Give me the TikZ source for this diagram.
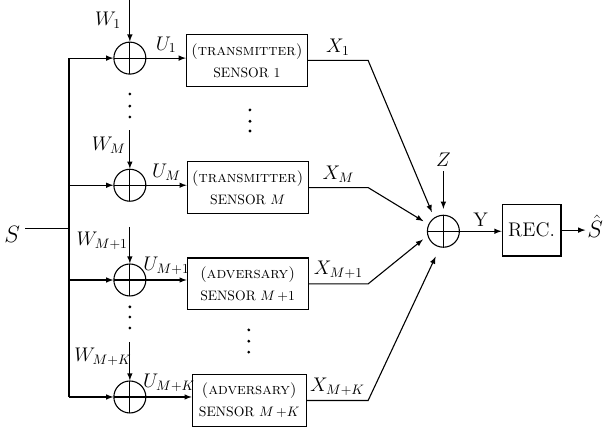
\documentclass[tikz,border=0pt]{standalone}
\newcommand{\papel}[1]{{\fontsize{11.4}{13}\selectfont\textsc{#1}}}
\begin{document}
\begin{tikzpicture}[
        thick,
        seta/.style={-latex},
        rotulo/.style={font=\Large},
        grande/.style={font=\fontsize{18.5}{22}\selectfont},
        somador/.style={circle, draw, minimum size=0.82cm, inner sep=0pt,
            path picture={\draw (path picture bounding box.north) -- (path picture bounding box.south)
                (path picture bounding box.west) -- (path picture bounding box.east);}},
        sensor/.style={rectangle, draw, align=center, inner sep=2pt,
            minimum width=3.1cm, minimum height=1.33cm}
    ]
        \useasboundingbox (0,0) rectangle (15.54,11.08);
        
        % Entrada
        \node[grande] (S) at (0.31,5.08) {$S$};
        \coordinate (ramo) at (1.77,5.23);
        \draw (ramo -| S.east) -- (ramo);
        
        % Somadores
        \node[somador] (s1) at (3.33,9.59) {};
        \node[somador] (sM) at (3.33,6.33) {};
        \node[somador] (sM1) at (3.33,3.90) {};
        \node[somador] (sMK) at (3.33,0.90) {};
        
        \draw (ramo |- s1.west) -- (ramo |- sMK.west);
        \foreach \s in {s1,sM,sM1,sMK}
            \draw[seta] (ramo |- \s.west) -- (\s.west);
        
        % Ruidos
        \coordinate (w1) at (3.33,11.08);
        \coordinate (wM) at (3.33,7.74);
        \coordinate (wM1) at (3.33,5.26);
        \coordinate (wMK) at (3.33,2.31);
        \draw[seta] (w1) -- (s1.north);
        \draw[seta] (wM) -- (sM.north);
        \draw[seta] (wM1) -- (sM1.north);
        \draw[seta] (wMK) -- (sMK.north);
        \node[rotulo] (lw1) at (2.77,10.56) {$W_1$};
        \node[rotulo] (lwM) at (2.79,7.36) {$W_M$};
        \node[rotulo] (lwM1) at (2.62,4.90) {$W_{M+1}$};
        \node[rotulo] (lwMK) at (2.64,1.92) {$W_{M+K}$};
        
        % Sensores
        \node[sensor] (t1) at (6.33,9.53) {\papel{(transmitter)}\\[4pt] SENSOR 1};
        \node[sensor] (tM) at (6.35,6.27) {\papel{(transmitter)}\\[4pt] SENSOR $M$};
        \node[sensor] (a1) at (6.35,3.80) {\papel{(adversary)}\\[4pt] SENSOR $M\,{+}1$};
        \node[sensor, minimum width=2.92cm] (aK) at (6.39,0.81) {\papel{(adversary)}\\[4pt] SENSOR $M\,{+}K$};
        
        \draw[seta] (s1.east) -- node[above, rotulo] {$U_1$} (s1.east -| t1.west);
        \draw[seta] (sM.east) -- node[above, rotulo] {$U_M$} (sM.east -| tM.west);
        \draw[seta] (sM1.east) -- node[above, rotulo] {$U_{M+1}$} (sM1.east -| a1.west);
        \draw[seta] (sMK.east) -- node[above, rotulo] {$U_{M+K}$} (sMK.east -| aK.west);
        
        % Reticencias
        \foreach \y in {8.67,8.36,8.08,3.21,2.95,2.67}
            \fill (3.33,\y) circle (0.04);
        \foreach \y in {8.26,7.97,7.72}
            \fill (6.41,\y) circle (0.04);
        \foreach \y in {2.62,2.33,2.05}
            \fill (6.38,\y) circle (0.04);
        
        % Canal
        \node[somador] (soma) at (11.37,5.15) {};
        \coordinate (c1) at (9.44,9.53);
        \coordinate (cM) at (9.44,6.27);
        \coordinate (cM1) at (9.44,3.80);
        \coordinate (cMK) at (9.44,0.81);
        \draw[seta, shorten >=0.15cm] (t1.east) -- node[above, rotulo] {$X_1$} (c1) -- (soma.124);
        \draw[seta, shorten >=0.15cm] (tM.east) -- node[above, rotulo] {$X_M$} (cM) -- (soma.155);
        \draw[seta, shorten >=0.15cm] (a1.east) -- node[above, rotulo] {$X_{M+1}$} (cM1) -- (soma.196);
        \draw[seta, shorten >=0.26cm] (aK.east) -- node[above, rotulo] {$X_{M+K}$} (cMK) -- (soma.258);
        
        \coordinate (z) at (11.37,6.69);
        \draw[seta, shorten >=0.15cm] (z) -- (soma.north);
        \node[rotulo, above] (lz) at (z) {$Z$};
        
        % Receptor
        \node[sensor, rotulo, minimum width=1.51cm, minimum height=1.33cm] (rec) at (13.63,5.18) {REC.};
        \node[grande, inner sep=1pt] (Shat) at (15.26,5.27) {$\hat{S}$};
        \draw[seta] (soma.east) -- node[above, rotulo] {Y} (soma.east -| rec.west);
        \draw[seta] (rec.east) -- (rec.east -| Shat.west);
        
    \end{tikzpicture}
\end{document}
